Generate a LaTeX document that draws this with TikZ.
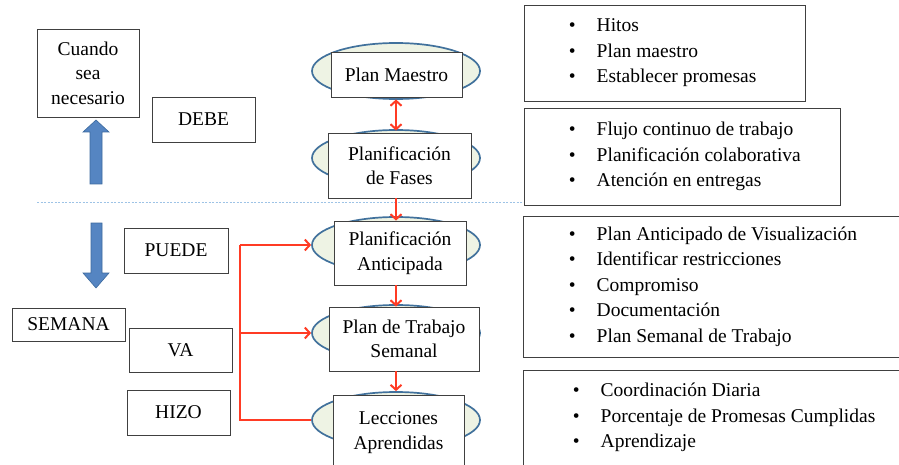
\documentclass[tikz,border=0pt]{standalone}
\usepackage{fontspec}
\setmainfont{Liberation Serif}
\usetikzlibrary{arrows.meta,positioning,shapes.geometric}
\definecolor{ink}{HTML}{404040}
\definecolor{ovalfill}{HTML}{EEF3E4}
\definecolor{ovaledge}{HTML}{41719C}
\definecolor{flowred}{HTML}{FF3B24}
\definecolor{bluearr}{HTML}{5585C2}
\definecolor{bluearredge}{HTML}{3C6A9E}
\definecolor{sepblue}{HTML}{9DC3E6}
\newcommand{\itm}[1]{\makebox[28pt][l]{\textbullet}#1}

\begin{document}
\begin{tikzpicture}[x=1pt,y=-1pt,>={Straight Barb[length=5pt,width=11pt]},
 every node/.style={font=\rmfamily\fontsize{19.5}{24.5}\selectfont},
 box/.style={draw=ink,line width=0.9pt,fill=white,align=center,inner sep=0pt},
 oval/.style={ellipse,draw=ovaledge,line width=1.7pt,fill=ovalfill,
 minimum width=168pt,minimum height=56pt,inner sep=0pt},
 tag/.style={draw=ink,line width=0.8pt,align=center,inner sep=0pt},
 items/.style={align=left,inner sep=0pt,font=\rmfamily\fontsize{19.5}{25.5}\selectfont},
 flow/.style={draw=flowred,line width=2pt},
 blockarrow/.style={fill=bluearr,draw=bluearredge,line width=0.6pt}]
\useasboundingbox (0,0) rectangle (899,465);
\clip (0,0) rectangle (899,465);

% left side: time scale
\node[tag,minimum width=102pt,minimum height=88pt] (cuando) at (88,73) {Cuando\\sea\\necesario};
\node[tag,minimum width=103pt,minimum height=45pt] (debe) at (203.5,119.5) {DEBE};
\node[tag,minimum width=104pt,minimum height=45pt] (puede) at (176,250.5) {PUEDE};
\node[tag,minimum width=113pt,minimum height=33pt] (semana) at (68.5,324.5) {SEMANA};
\node[tag,minimum width=103pt,minimum height=44pt] (va) at (180.5,350) {VA};
\node[tag,minimum width=103pt,minimum height=45pt] (hizo) at (178.5,412.5) {HIZO};
\filldraw[blockarrow] (90,184) -- (90,132) -- (83,132) -- (96,120) -- (109,132)
 -- (102,132) -- (102,184) -- cycle;
\filldraw[blockarrow] (91,223) -- (102,223) -- (102,273) -- (109,273) -- (96,288)
 -- (83,273) -- (91,273) -- cycle;
\draw[sepblue,line width=0.8pt,dash pattern=on 2pt off 1.5pt] (37,202) -- (525,202);

% planning levels
\node[oval] (mpo) at (396,71) {};
\node[box,minimum width=131pt,minimum height=45pt] (mp) at (396.5,74.5) {Plan Maestro};
\node[oval] (pfo) at (396,158) {};
\node[box,minimum width=143pt,minimum height=65pt] (pf) at (399.5,165.5) {Planificación\\de Fases};
\node[oval] (ano) at (396,245) {};
\node[box,minimum width=132pt,minimum height=64pt] (an) at (400,253) {Planificación\\Anticipada};
\node[oval] (pso) at (396,333) {};
\node[box,minimum width=150pt,minimum height=64pt] (ps) at (404,339) {Plan de Trabajo\\Semanal};
\node[oval] (leo) at (396,420) {};
\node[box,minimum width=131pt,minimum height=75pt] (le) at (398.5,432.5) {Lecciones\\Aprendidas};

\draw[flow,<->,shorten <=2pt,shorten >=2pt] (mp.south -| mpo) -- (pf.north -| mpo);
\draw[flow,->] (pf.south -| pfo) -- (an.north -| pfo);
\draw[flow,->] (an.south -| ano) -- (ps.north -| ano);
\draw[flow,->] (ps.south -| pso) -- (leo.north -| pso);

\coordinate (spine) at (240,0);
\draw[flow,->] (ano.west -| spine) -- (ano.west);
\draw[flow,->] (pso.west -| spine) -- (pso.west);
\draw[flow] (ano.west -| spine) -- (leo.west -| spine) -- (leo.west);

% right side: contents of each level
\node[box,minimum width=281pt,minimum height=96pt] (mpbox) at (664.5,53) {};
\node[items,right=45pt of mpbox.west] (mplist)
 {\itm{Hitos}\\\itm{Plan maestro}\\\itm{Establecer promesas}};
\node[box,minimum width=316pt,minimum height=97pt] (pfbox) at (682,156.5) {};
\node[items,right=45pt of pfbox.west] (pflist)
 {\itm{Flujo continuo de trabajo}\\\itm{Planificación colaborativa}\\\itm{Atención en entregas}};
\node[box,minimum width=397pt,minimum height=141pt] (anbox) at (721.5,286.5) {};
\node[items,right=46pt of anbox.west] (anlist)
 {\itm{Plan Anticipado de Visualización}\\\itm{Identificar restricciones}\\\itm{Compromiso}\\
 \itm{Documentación}\\\itm{Plan Semanal de Trabajo}};
\node[box,minimum width=397pt,minimum height=110pt] (lebox) at (721.5,425) {};
\node[items,anchor=west] (lelist) at ([xshift=50pt,yshift=7.5pt]lebox.west)
 {\itm{Coordinación Diaria}\\\itm{Porcentaje de Promesas Cumplidas}\\\itm{Aprendizaje}};
\end{tikzpicture}
\end{document}
